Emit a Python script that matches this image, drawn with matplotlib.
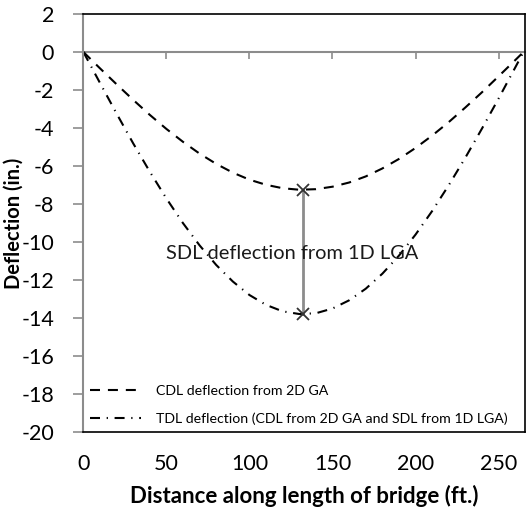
import matplotlib
matplotlib.use("Agg")
import matplotlib.pyplot as plt

plt.rcParams['font.family'] = ['Lato', 'DejaVu Sans']
plt.rcParams['axes.unicode_minus'] = False

# Distance along the bridge (ft.)
distance = [0, 10, 20, 30, 40, 50, 60, 70, 80, 90, 100, 110, 120, 130,
            140, 150, 160, 170, 180, 190, 200, 210, 220, 230, 240, 250, 260, 265]

# CDL deflection from 2D GA (in.)
cdl = [0, -0.86, -1.70, -2.52, -3.31, -4.05, -4.73, -5.35, -5.89, -6.35,
       -6.72, -6.99, -7.17, -7.25, -7.22, -7.09, -6.87, -6.55, -6.13, -5.63,
       -5.05, -4.40, -3.69, -2.92, -2.12, -1.28, -0.43, 0]

# TDL deflection: CDL from 2D GA plus SDL from 1D LGA (in.)
tdl = [0, -1.63, -3.24, -4.81, -6.30, -7.71, -9.01, -10.18, -11.21, -12.08,
       -12.79, -13.31, -13.65, -13.79, -13.75, -13.50, -13.07, -12.46, -11.67,
       -10.72, -9.61, -8.37, -7.01, -5.56, -4.03, -2.45, -0.82, 0]

# SDL deflection at midspan
mid_x = [132.5, 132.5]
mid_y = [-7.25, -13.8]

x_ticks = [0, 50, 100, 150, 200, 250]
y_ticks = list(range(-20, 3, 2))
y_min, y_max = -20, 2

fig = plt.figure(figsize=(5.31, 5.14), dpi=100)
ax = fig.add_axes([0.157, 0.1595, 0.832, 0.8133])

ax.plot(distance, cdl, color='black', lw=1.5, linestyle=(0, (4.8, 3.8)),
        label='CDL deflection from 2D GA')
ax.plot(distance, tdl, color='black', lw=1.5,
        linestyle=(0, (4.8, 3.2, 0.6, 3.2)),
        label='TDL deflection (CDL from 2D GA and SDL from 1D LGA)')

ax.plot(mid_x, mid_y, color='#8c8c8c', lw=2.0, zorder=3)
ax.plot(mid_x, mid_y, linestyle='none', marker='x', ms=8, mew=1.3,
        color='#333333', zorder=4)

ax.text(125.4, -10.6, 'SDL deflection from 1D LGA', fontsize=14.4,
        ha='center', va='center', color='#1a1a1a')

ax.set_xlim(0, 266)
ax.set_ylim(y_min, y_max)
ax.set_xticks(x_ticks)
ax.set_yticks(y_ticks)

ax.tick_params(axis='x', length=0, pad=16, labelsize=15.5)
ax.tick_params(axis='y', length=7, width=1.2, color='#8c8c8c', pad=14,
               labelsize=15.5)

for side in ('top', 'right', 'bottom'):
    ax.spines[side].set_color('black')
    ax.spines[side].set_linewidth(1.2)
ax.spines['left'].set_color('#8c8c8c')
ax.spines['left'].set_linewidth(1.5)

# horizontal axis crossing at zero deflection, ticks pointing down
zero_axis = ax.secondary_xaxis((0 - y_min) / (y_max - y_min))
zero_axis.set_xticks(x_ticks)
zero_axis.tick_params(axis='x', which='both', direction='in', length=5,
                      width=1.2, color='#8c8c8c', labeltop=False,
                      labelbottom=False)
for spine in zero_axis.spines.values():
    spine.set_color('#8c8c8c')
    spine.set_linewidth(1.5)

ax.set_xlabel('Distance along length of bridge (ft.)', fontsize=16,
              fontweight='bold', labelpad=8)
ax.set_ylabel('Deflection (in.)', fontsize=14.5, fontweight='bold',
              va='center')
ax.yaxis.set_label_coords(-0.158, 0.5)

ax.legend(loc='lower left', frameon=False, fontsize=10.2, handlelength=3.6,
          handletextpad=1.0, labelspacing=1.1, borderaxespad=0.2,
          borderpad=0.3)

fig.savefig('out.png', dpi=100)
